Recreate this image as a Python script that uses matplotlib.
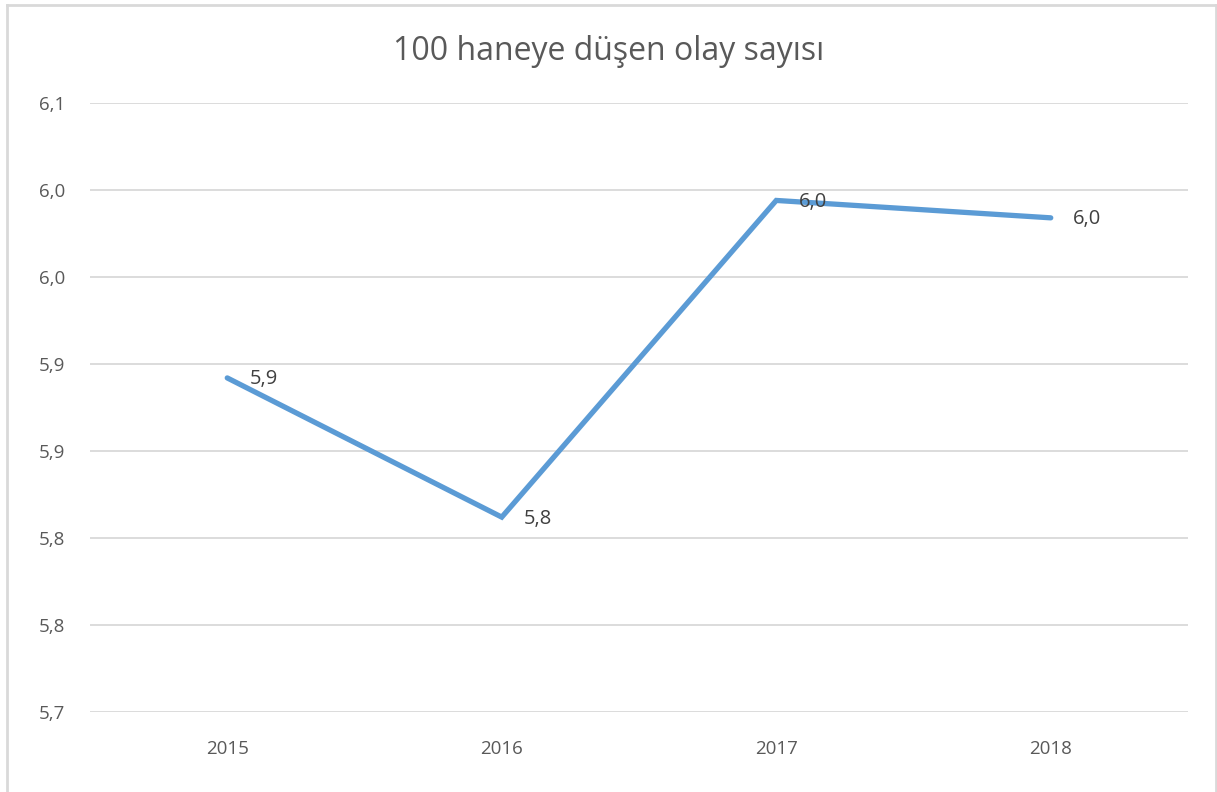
import matplotlib
matplotlib.use("Agg")
import matplotlib.pyplot as plt
from matplotlib.lines import Line2D

years = ["2015", "2016", "2017", "2018"]
values = [5.892, 5.812, 5.994, 5.984]
value_labels = ["5,9", "5,8", "6,0", "6,0"]
yticks = [5.70, 5.75, 5.80, 5.85, 5.90, 5.95, 6.00, 6.05]
ytick_labels = ["5,7", "5,8", "5,8", "5,9", "5,9", "6,0", "6,0", "6,1"]
title = "100 haneye düşen olay sayısı"

plt.rcParams['font.family'] = ['Open Sans', 'DejaVu Sans']

W, H = 1217, 792
fig = plt.figure(figsize=(W / 100, H / 100), dpi=100)
ax = fig.add_axes([90 / W, (H - 712) / H, (1188 - 90) / W, (712 - 103) / H])

x = list(range(len(years)))
ax.plot(x, values, color="#5b9bd5", lw=3.8, solid_capstyle="round", solid_joinstyle="miter", zorder=3)
for xi, v, lab in zip(x, values, value_labels):
    ax.annotate(lab, (xi, v), xytext=(16, -1), textcoords="offset points",
                ha="left", va="center", fontsize=14.5, color="#404040", zorder=4)

ax.set_xlim(-0.5, len(years) - 0.5)
ax.set_ylim(5.70, 6.05)
ax.set_yticks(yticks)
ax.set_yticklabels(ytick_labels)
ax.set_xticks(x)
ax.set_xticklabels(years)
ax.tick_params(axis="both", length=0, labelsize=13.5, colors="#595959")
ax.tick_params(axis="y", pad=18)
ax.tick_params(axis="x", pad=20)
ax.grid(axis="y", color="#d9d9d9", lw=1.3, zorder=0)
for s in ax.spines.values():
    s.set_visible(False)

fig.text(0.5, (H - 51) / H, title, ha="center", va="center", fontsize=23, color="#595959")

bc = "#d9d9d9"
fig.add_artist(Line2D([6.5 / W, 6.5 / W], [0, (H - 5) / H], color=bc, lw=2))
fig.add_artist(Line2D([6.5 / W, 1215.5 / W], [(H - 5) / H, (H - 5) / H], color=bc, lw=2))
fig.add_artist(Line2D([1215.5 / W, 1215.5 / W], [0, (H - 5) / H], color=bc, lw=2))

fig.savefig("out.png", dpi=100, facecolor="white")
